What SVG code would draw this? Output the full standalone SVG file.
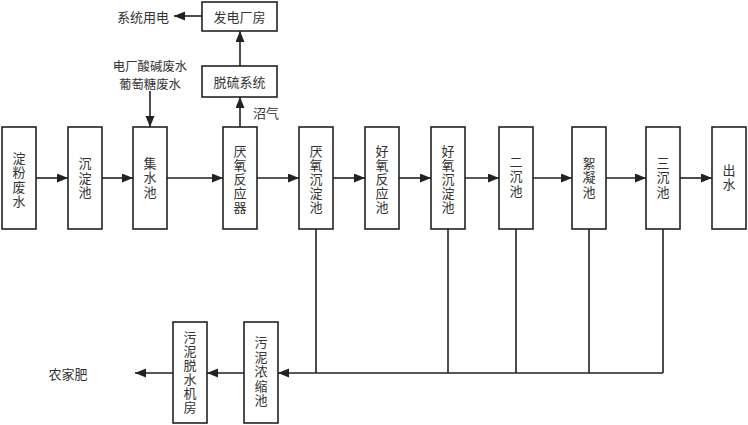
<svg xmlns="http://www.w3.org/2000/svg" width="748" height="425" viewBox="0 0 748 425">
<style>
.box{fill:#fff;stroke:#222;stroke-width:1.6}
.ln{fill:none;stroke:#222;stroke-width:1.6}
.arr{marker-end:url(#ah)}
text{font-family:"Noto Sans CJK SC","Noto Sans CJK JP",sans-serif;font-size:13px;fill:#333;text-anchor:middle;dominant-baseline:central}
.v{writing-mode:vertical-rl;text-orientation:upright;letter-spacing:1.5px}
.v5{letter-spacing:1px}
.two{font-size:12.4px}
</style>
<defs>
<marker id="ah" markerUnits="userSpaceOnUse" markerWidth="12" markerHeight="10" refX="11" refY="4.5" orient="auto">
<path d="M0,0 L11,4.5 L0,9 Z" fill="#222"/>
</marker>
</defs>
<rect width="748" height="425" fill="#fff"/>
<g id="connectors">
<path class="ln arr" d="M36,178 H68"/>
<path class="ln arr" d="M102,178 H133"/>
<path class="ln arr" d="M167,178 H223"/>
<path class="ln arr" d="M257,178 H299"/>
<path class="ln arr" d="M333,178 H365"/>
<path class="ln arr" d="M399,178 H431"/>
<path class="ln arr" d="M465,178 H499"/>
<path class="ln arr" d="M533,178 H572"/>
<path class="ln arr" d="M606,178 H646"/>
<path class="ln arr" d="M680,178 H712"/>
<path class="ln arr" d="M150,91 V127"/>
<path class="ln arr" d="M240,127 V97"/>
<path class="ln arr" d="M240,66 V31"/>
<path class="ln arr" d="M202,16 H174"/>
<path class="ln" d="M316,229 V373 M448,229 V373 M516,229 V373 M589,229 V373 M663,229 V373"/>
<path class="ln arr" d="M663,373 H278"/>
<path class="ln arr" d="M244,373 H207"/>
<path class="ln arr" d="M173,373 H135"/>
</g>
<g id="n-dianfen"><rect class="box" x="2" y="127" width="34" height="102"/>
<text class="v" x="19" y="180.5">淀粉废水</text></g>
<g id="n-chendian"><rect class="box" x="68" y="127" width="34" height="102"/>
<text class="v" x="85" y="178.5">沉淀池</text></g>
<g id="n-jishui"><rect class="box" x="133" y="127" width="34" height="102"/>
<text class="v" x="150" y="178">集水池</text></g>
<g id="n-yanyang-fy"><rect class="box" x="223" y="127" width="34" height="102"/>
<text class="v v5" x="240" y="180">厌氧反应器</text></g>
<g id="n-yanyang-cd"><rect class="box" x="299" y="127" width="34" height="102"/>
<text class="v v5" x="316" y="180">厌氧沉淀池</text></g>
<g id="n-haoyang-fy"><rect class="box" x="365" y="127" width="34" height="102"/>
<text class="v v5" x="382" y="180">好氧反应池</text></g>
<g id="n-haoyang-cd"><rect class="box" x="431" y="127" width="34" height="102"/>
<text class="v v5" x="448" y="180">好氧沉淀池</text></g>
<g id="n-erchen"><rect class="box" x="499" y="127" width="34" height="102"/>
<text class="v" x="516" y="177">二沉池</text></g>
<g id="n-xuning"><rect class="box" x="572" y="127" width="34" height="102"/>
<text class="v" x="589" y="178">絮凝池</text></g>
<g id="n-sanchen"><rect class="box" x="646" y="127" width="34" height="102"/>
<text class="v" x="663" y="178">三沉池</text></g>
<g id="n-chushui"><rect class="box" x="712" y="127" width="34" height="102"/>
<text class="v" x="729" y="178">出水</text></g>
<g id="n-fadian"><rect class="box" x="202" y="2" width="75" height="29"/>
<text x="239.5" y="16.5">发电厂房</text></g>
<g id="n-tuoliu"><rect class="box" x="202" y="66" width="75" height="31"/>
<text x="239.5" y="81.5">脱硫系统</text></g>
<g id="n-wuni-ns"><rect class="box" x="244" y="322" width="34" height="101"/>
<text class="v" x="261" y="372">污泥浓缩池</text></g>
<g id="n-wuni-ts"><rect class="box" x="173" y="322" width="34" height="101"/>
<text class="v v5" x="190" y="373">污泥脱水机房</text></g>
<g id="labels">
<text x="143" y="16.5">系统用电</text>
<text class="two" x="150" y="65.5"><tspan x="150">电厂酸碱废水</tspan><tspan x="150" dy="18">葡萄糖废水</tspan></text>
<text x="266" y="112">沼气</text>
<text x="68" y="373">农家肥</text>
</g>
</svg>
